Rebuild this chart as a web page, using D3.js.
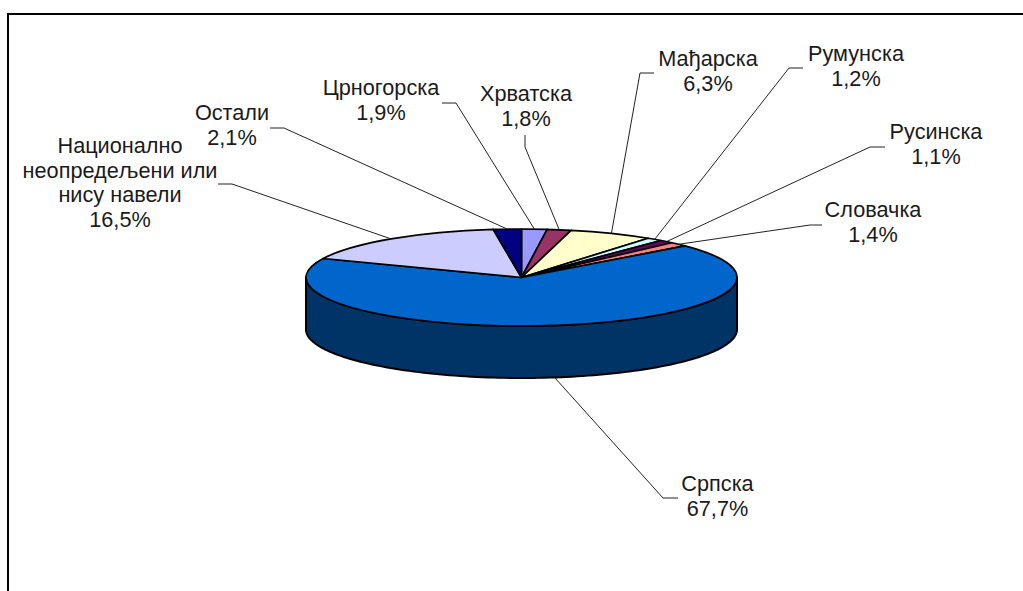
<!DOCTYPE html>
<html><head><meta charset="utf-8">
<script src="https://cdn.jsdelivr.net/npm/d3@7"></script>
<style>
html,body{margin:0;padding:0;background:#fff;overflow:hidden}
svg{display:block}
text{font-family:"Liberation Sans",Arial,sans-serif;font-size:21.7px;fill:#1a1a1a;text-anchor:middle}
</style></head><body><svg id="c" width="1023" height="591"></svg>
<script>
// data, clockwise from twelve o'clock
const labels = [["Црногорска"],["Хрватска"],["Мађарска"],["Румунска"],["Русинска"],["Словачка"],["Српска"],["Национално","неопредељени или","нису навели"],["Остали"]];
const values = [1.9,1.8,6.3,1.2,1.1,1.4,67.7,16.5,2.1];
const valueLabels = ["1,9%","1,8%","6,3%","1,2%","1,1%","1,4%","67,7%","16,5%","2,1%"];
const colors = ["#9999FF","#993366","#FFFFCC","#CCFFFF","#660066","#FF8080","#0066CC","#CCCCFF","#000080"];
const wallColor = "#003366";

// layout
const cx=521.5, cy=277.5, rx=215.5, ry=48.5, depth=52;
const labelX = [381,526,708,856,936,873,717.5,120,232];
const labelY = [95,101,66,61,139,217,491,153,120];
const lineStep = 24.5;
const leaderStart = [[442,103],[525,135],[654,73],[803,68],[885,147],[822,225],[678,498],[218,184],[270,128]];
const leaderElbow = [[456,103],[525,147],[640,73],[789,68],[870,147],[810,225],[663,498],[232,184],[284,128]];

const svg=d3.select("#c");
// frame, open to the right and bottom
svg.append("path").attr("d",d3.line()([[8,591],[8,14],[1023,14]]))
  .attr("fill","none").attr("stroke","#000").attr("stroke-width",2);

const pie=d3.pie().sort(null).value(d=>d).startAngle(0).endAngle(2*Math.PI);
const arcs=pie(values);
const px=a=>cx+rx*Math.sin(a), py=a=>cy-ry*Math.cos(a);

// side wall: front half of the disc
const wallAngles=d3.range(0,121).map(i=>Math.PI/2+Math.PI*i/120);
const wall=d3.area().x(px).y0(py).y1(a=>py(a)+depth);
svg.append("path").attr("d",wall(wallAngles))
  .attr("fill",wallColor).attr("stroke","#000").attr("stroke-width",2).attr("stroke-linejoin","round");

// top face
const arc=d3.arc().innerRadius(0).outerRadius(rx);
svg.append("g").attr("transform",`translate(${cx},${cy}) scale(1,${ry/rx})`)
 .selectAll("path").data(arcs).join("path")
  .attr("d",arc).attr("fill",(d,i)=>colors[i])
  .attr("stroke","#000").attr("stroke-width",1.7).attr("stroke-linejoin","round")
  .attr("vector-effect","non-scaling-stroke");

// leaders
svg.append("g").selectAll("path").data(arcs).join("path")
  .attr("d",(d,i)=>{
    const m=(d.startAngle+d.endAngle)/2;
    const front=Math.cos(m)<0;
    return d3.line()([leaderStart[i],leaderElbow[i],[px(m),py(m)+(front?depth:0)]]);
  })
  .attr("fill","none").attr("stroke","#222").attr("stroke-width",1);

// labels
const g=svg.append("g");
labels.forEach((lines,i)=>{
  [...lines,valueLabels[i]].forEach((t,k)=>{
    g.append("text").attr("x",labelX[i]).attr("y",labelY[i]+k*lineStep).text(t);
  });
});
</script></body></html>
